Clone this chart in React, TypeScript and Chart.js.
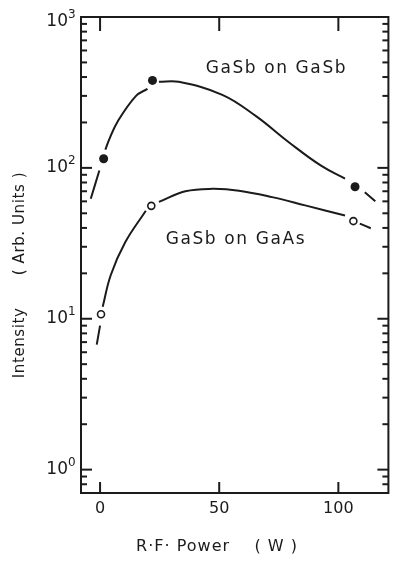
import { useEffect, useRef } from 'react';
import { Chart, registerables } from 'chart.js';

Chart.register(...registerables);

// ---- data ----
const X_TICKS = [0, 50, 100];
const Y_DECADES = [1, 10, 100, 1000];
const Y_EXPONENTS = ['0', '1', '2', '3'];
const Y_MINORS = [0.8, 0.9, 2, 3, 4, 5, 6, 7, 8, 9, 20, 30, 40, 50, 60, 70, 80, 90, 200, 300, 400, 500, 600, 700, 800, 900];

const X_TITLE = 'R·F· Power    ( W )';
const Y_TITLE = 'Intensity      ( Arb. Units )';
const LABEL_GASB = 'GaSb on GaSb';
const LABEL_GAAS = 'GaSb on GaAs';
const LABEL_GASB_AT = [74, 455];
const LABEL_GAAS_AT = [57, 33.6];

// measured points
const gasbPoints = [
  [1.5, 115],
  [22, 380],
  [107, 75],
];
const gaasPoints = [
  [0.4, 10.7],
  [21.5, 56],
  [106.3, 44.4],
];

// hand-drawn curve pieces (broken near the markers)
const gasbCurve1 = [[-3.9, 62.5], [-0.3, 96]];
const gasbCurve2 = [[2.2, 132], [3.9, 155], [7.4, 203], [15, 299], [19.9, 334]];
const gasbCurve3 = [[24.7, 372], [33, 372], [51.3, 305], [65.3, 221], [79.2, 148], [92.9, 103], [102.8, 85]];
const gasbCurve4 = [[111.1, 69], [115.5, 60]];

const gaasCurve1 = [[-1.4, 6.74], [0, 9.0]];
const gaasCurve2 = [[1.1, 12.0], [4.5, 19.5], [10.5, 32], [19.2, 52]];
const gaasCurve3 = [[24.7, 59.5], [35.8, 70], [47.2, 72.6], [58.3, 70.6], [72.2, 64], [86.1, 56.4], [102.8, 48.3]];
const gaasCurve4 = [[109, 42.7], [113.6, 39.8]];

const INK = '#1b1b1b';
const FONT = '"DejaVu Sans", sans-serif';

const toXY = (arr: number[][]) => arr.map(([x, y]) => ({ x, y }));

const curve = (arr: number[][]) => ({
  data: toXY(arr),
  showLine: true,
  borderColor: INK,
  borderWidth: 2,
  pointRadius: 0,
  tension: 0.4,
  order: 1,
});

const framePlugin = {
  id: 'framePlugin',
  afterDatasetsDraw(chart: any) {
    const { ctx, chartArea, scales } = chart;
    const { left, right, top, bottom } = chartArea;
    const xs = scales.x;
    const ys = scales.y;
    ctx.save();
    ctx.strokeStyle = INK;
    ctx.fillStyle = INK;
    ctx.lineWidth = 2;
    ctx.lineCap = 'butt';
    ctx.strokeRect(left, top, right - left, bottom - top);

    const line = (x1: number, y1: number, x2: number, y2: number) => {
      ctx.beginPath();
      ctx.moveTo(x1, y1);
      ctx.lineTo(x2, y2);
      ctx.stroke();
    };

    // x ticks & labels
    ctx.font = `16px ${FONT}`;
    ctx.textAlign = 'center';
    ctx.textBaseline = 'middle';
    X_TICKS.forEach((v) => {
      const px = xs.getPixelForValue(v);
      line(px, top, px, top + 14);
      line(px, bottom, px, bottom - 11);
      ctx.fillText(String(v), px, bottom + 16);
    });

    // y major ticks & labels
    Y_DECADES.forEach((v, i) => {
      const py = ys.getPixelForValue(v);
      line(left, py, left + 11, py);
      line(right, py, right - 11, py);
      const dy = v === ys.max ? 5 : 0;
      ctx.font = `17px ${FONT}`;
      ctx.textAlign = 'right';
      ctx.textBaseline = 'middle';
      ctx.fillText('10', left - 13, py + dy);
      ctx.font = `12px ${FONT}`;
      ctx.textAlign = 'left';
      ctx.fillText(Y_EXPONENTS[i], left - 13, py + dy - 7);
    });
    // y minor ticks
    Y_MINORS.forEach((v) => {
      const py = ys.getPixelForValue(v);
      line(left, py, left + 6, py);
      line(right, py, right - 6, py);
    });

    // in-plot labels
    ctx.font = `17px ${FONT}`;
    (ctx as any).letterSpacing = '1.6px';
    ctx.textAlign = 'center';
    ctx.textBaseline = 'middle';
    ctx.fillText(LABEL_GASB, xs.getPixelForValue(LABEL_GASB_AT[0]), ys.getPixelForValue(LABEL_GASB_AT[1]));
    ctx.fillText(LABEL_GAAS, xs.getPixelForValue(LABEL_GAAS_AT[0]), ys.getPixelForValue(LABEL_GAAS_AT[1]));

    // axis titles
    ctx.font = `16px ${FONT}`;
    (ctx as any).letterSpacing = '1px';
    ctx.fillText(X_TITLE, 217, 547);

    ctx.font = `15px ${FONT}`;
    (ctx as any).letterSpacing = '0.6px';
    ctx.translate(20, 275);
    ctx.rotate(-Math.PI / 2);
    ctx.fillText(Y_TITLE, 0, 0);
    ctx.restore();
  },
};

export default function App() {
  const ref = useRef<HTMLCanvasElement | null>(null);

  useEffect(() => {
    document.body.style.margin = '0';
    const canvas = ref.current;
    if (!canvas) return;
    const chart = new Chart(canvas, {
      type: 'scatter',
      data: {
        datasets: [
          {
            data: toXY(gasbPoints),
            pointRadius: 4.5,
            pointBackgroundColor: INK,
            pointBorderColor: INK,
            pointBorderWidth: 0,
            showLine: false,
            order: 0,
          },
          {
            data: toXY(gaasPoints),
            pointRadius: 3.5,
            pointBackgroundColor: '#ffffff',
            pointBorderColor: INK,
            pointBorderWidth: 1.6,
            showLine: false,
            order: 0,
          },
          curve(gasbCurve1),
          curve(gasbCurve2),
          curve(gasbCurve3),
          curve(gasbCurve4),
          curve(gaasCurve1),
          curve(gaasCurve2),
          curve(gaasCurve3),
          curve(gaasCurve4),
        ] as any,
      },
      options: {
        animation: false,
        responsive: false,
        devicePixelRatio: 1,
        layout: { padding: { left: 81, right: 3, top: 17, bottom: 69 } },
        plugins: { legend: { display: false }, tooltip: { enabled: false } },
        scales: {
          x: { type: 'linear', min: -8, max: 121, display: false },
          y: { type: 'logarithmic', min: 0.7, max: 1000, display: false },
        },
      },
      plugins: [framePlugin],
    });
    return () => chart.destroy();
  }, []);

  return (
    <div style={{ width: 394, height: 562, background: '#fff' }}>
      <canvas ref={ref} width={394} height={562} />
    </div>
  );
}
